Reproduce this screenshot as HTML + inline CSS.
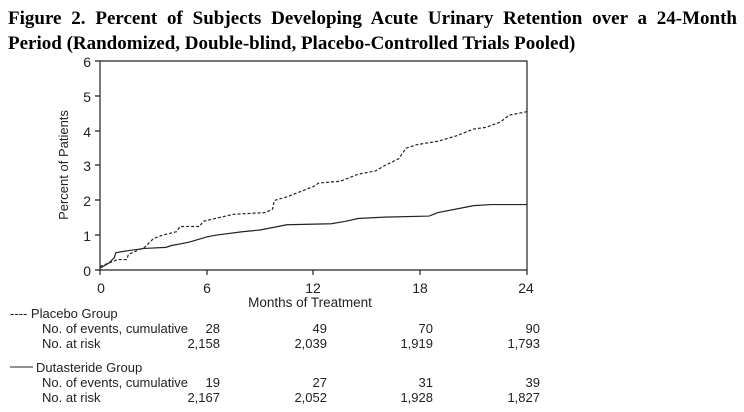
<!DOCTYPE html>
<html><head><meta charset="utf-8"><style>
body{margin:0;width:744px;height:412px;background:#fff;overflow:hidden;font-family:"Liberation Sans",sans-serif}
.t{position:absolute;left:8px;width:729px;font-family:"Liberation Serif",serif;font-weight:bold;font-size:19px;line-height:25px;color:#000;white-space:nowrap}
</style></head><body>
<div class="t" style="top:6px;text-align:justify;text-align-last:justify">Figure 2. Percent of Subjects Developing Acute Urinary Retention over a 24-Month</div>
<div class="t" style="top:31px">Period (Randomized, Double-blind, Placebo-Controlled Trials Pooled)</div>
<svg width="744" height="412" style="position:absolute;left:0;top:0" font-family="Liberation Sans, sans-serif" fill="#222">
<g stroke="#222" stroke-width="1.2" fill="none">
<path d="M100,61V270H527V61H100"/>
<path d="M100,270V275M207,270V275M313,270V275M420,270V275M527,270V275"/>
<path d="M100,270H95M100,235H95M100,200H95M100,165H95M100,131H95M100,96H95M100,61H95"/>
</g>
<g font-size="14" text-anchor="end">
<text x="91" y="276">0</text><text x="91" y="241">1</text><text x="91" y="206">2</text><text x="91" y="171">3</text><text x="91" y="137">4</text><text x="91" y="102">5</text><text x="91" y="67">6</text>
</g>
<g font-size="14" text-anchor="middle">
<text x="101" y="293">0</text><text x="207" y="293">6</text><text x="313" y="293">12</text><text x="420" y="293">18</text><text x="526" y="293">24</text>
<text x="310" y="307" font-size="13.5">Months of Treatment</text>
</g>
<text transform="translate(68,165) rotate(-90)" font-size="13" text-anchor="middle">Percent of Patients</text>
<g transform="translate(100,270) scale(17.79,-34.8)" fill="none" stroke="#222">
<polyline vector-effect="non-scaling-stroke" stroke-width="1.2" stroke-dasharray="3,2" points="0,0.1 0.5,0.2 1,0.3 1.5,0.3 1.6,0.45 2.5,0.65 3,0.9 3.5,1.0 4.3,1.1 4.5,1.25 5.6,1.25 5.8,1.4 7.5,1.6 9.3,1.65 9.7,1.75 9.8,2.0 10.5,2.1 12,2.4 12.3,2.5 13.5,2.55 14.5,2.75 15.5,2.85 16,3.0 16.8,3.2 17.2,3.5 17.8,3.6 19,3.7 20,3.85 21,4.05 21.7,4.1 22.5,4.25 23,4.45 24,4.55 24,4.65"/>
<polyline vector-effect="non-scaling-stroke" stroke-width="1.2" points="0,0.05 0.5,0.2 0.8,0.35 0.9,0.5 1.5,0.55 2.5,0.62 3.7,0.65 4,0.7 5,0.8 6,0.95 6.5,1.0 8,1.1 9,1.15 10,1.25 10.5,1.3 13,1.33 13.8,1.4 14.5,1.48 16,1.52 18.5,1.55 19,1.65 20,1.75 21,1.85 22,1.88 24,1.88"/>
</g>
<g font-size="13">
<text x="10" y="318">---- Placebo Group</text>
<text x="42" y="333">No. of events, cumulative</text>
<text x="42" y="348">No. at risk</text>
<line x1="10" y1="367" x2="33" y2="367" stroke="#222" stroke-width="1"/>
<text x="36" y="372">Dutasteride Group</text>
<text x="42" y="387">No. of events, cumulative</text>
<text x="42" y="402">No. at risk</text>
</g>
<g font-size="13" text-anchor="end">
<text x="220" y="333">28</text><text x="327" y="333">49</text><text x="433" y="333">70</text><text x="540" y="333">90</text>
<text x="220" y="348">2,158</text><text x="327" y="348">2,039</text><text x="433" y="348">1,919</text><text x="540" y="348">1,793</text>
<text x="220" y="387">19</text><text x="327" y="387">27</text><text x="433" y="387">31</text><text x="540" y="387">39</text>
<text x="220" y="402">2,167</text><text x="327" y="402">2,052</text><text x="433" y="402">1,928</text><text x="540" y="402">1,827</text>
</g>
</svg>
</body></html>
